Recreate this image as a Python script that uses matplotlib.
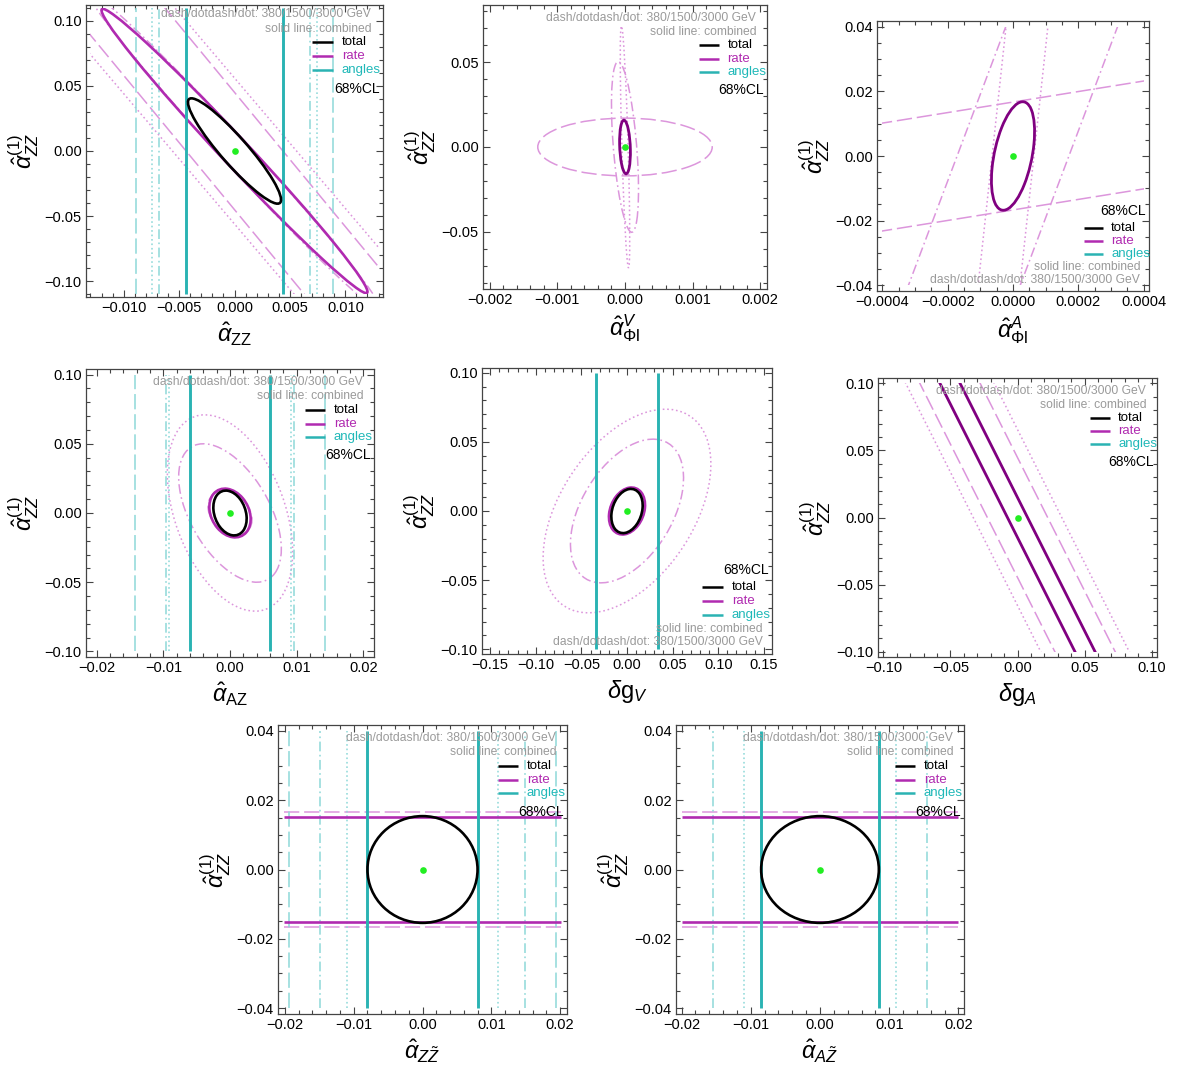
import numpy as np
import matplotlib
matplotlib.use('Agg')
import matplotlib.pyplot as plt
from matplotlib.patches import Ellipse, Rectangle
from matplotlib.transforms import Affine2D
from matplotlib.ticker import MultipleLocator, FuncFormatter

plt.rcParams['font.family'] = ['Liberation Sans', 'DejaVu Sans']
plt.rcParams['mathtext.fontset'] = 'custom'
plt.rcParams['mathtext.rm'] = 'Liberation Sans'
plt.rcParams['mathtext.it'] = 'Liberation Sans:italic'
plt.rcParams['mathtext.bf'] = 'Liberation Sans:bold'
plt.rcParams['lines.scale_dashes'] = False

TOTAL_C = 'black'
RATE_C = '#b02ab0'
RATE_LIGHT = '#dc96dc'
COMBINED_C = '#800080'
ANGLES_C = '#2ab3b3'
ANGLES_LIGHT = '#8ed9d9'
GREY = '#9a9a9a'

DASHES = {'solid': '-', 'combined': '-',
          'dash': (0, (11, 3.5)),
          'dotdash': (0, (7, 2.5, 1.2, 2.5)),
          'dot': (0, (1.2, 2.0))}

BEST_FIT = (0.0, 0.0)

# ellipses: (style, x half extent, y half extent, correlation)
# bands:    (style, slope, +- y intercept)
# lines:    (style, +- position)

# alpha_ZZ
P1_LIM = (0.0134, 0.112)
P1_RANGE = (0.013, 0.11)
P1_TOTAL = (0.0042, 0.0404, -0.925)
P1_RATE_ELL = [('dotdash', 0.0132, 0.122, -0.992), ('solid', 0.0120, 0.109, -0.990)]
P1_RATE_BAND = [('dash', -10.3, 0.045), ('dot', -10.0, 0.056)]
P1_RATE_H = []
P1_ANGLES = [('dotdash', 0.0068), ('dot', 0.0074), ('dash', 0.0089), ('solid', 0.0044)]

# alpha_Phil^V
P2_LIM = (0.0021, 0.0836)
P2_RANGE = (0.002, 0.08)
P2_TOTAL = None
P2_RATE_ELL = [('dash', 0.00129, 0.0170, 0.0), ('dotdash', 0.00020, 0.0502, -0.5),
               ('dot', 0.00007, 0.0712, -0.75), ('combined', 0.00008, 0.0158, -0.2)]
P2_RATE_BAND = []
P2_RATE_H = []
P2_ANGLES = []

# alpha_Phil^A
P3_LIM = (0.000416, 0.0418)
P3_RANGE = (0.0004, 0.04)
P3_TOTAL = None
P3_RATE_ELL = [('combined', 0.000066, 0.0168, 0.45)]
P3_RATE_BAND = [('dash', 16.3, 0.0167), ('dotdash', 269.0, 0.046), ('dot', 938.0, 0.060)]
P3_RATE_H = []
P3_ANGLES = []

# alpha_AZ
P4_LIM = (0.0216, 0.104)
P4_RANGE = (0.0208, 0.1)
P4_TOTAL = (0.0025, 0.0162, -0.25)
P4_RATE_ELL = [('dash', 0.0033, 0.0160, -0.30), ('dotdash', 0.0077, 0.0500, -0.52),
               ('dot', 0.0094, 0.0709, -0.40), ('solid', 0.0031, 0.0176, -0.25)]
P4_RATE_BAND = []
P4_RATE_H = []
P4_ANGLES = [('dash', 0.0142), ('dotdash', 0.0096), ('dot', 0.0091), ('solid', 0.0060)]

# delta g_V
P5_LIM = (0.159, 0.1035)
P5_RANGE = (0.153, 0.1)
P5_TOTAL = (0.0172, 0.0160, 0.25)
P5_RATE_ELL = [('dotdash', 0.062, 0.052, 0.46), ('dot', 0.092, 0.0737, 0.46),
               ('solid', 0.0198, 0.0170, 0.25)]
P5_RATE_BAND = []
P5_RATE_H = []
P5_ANGLES = [('solid', 0.034)]

# delta g_A
P6_LIM = (0.104, 0.104)
P6_RANGE = (0.1, 0.1)
P6_TOTAL = None
P6_RATE_ELL = []
P6_RATE_BAND = [('dash', -1.988, 0.0447), ('dot', -1.988, 0.0656), ('combined', -1.988, 0.0149)]
P6_RATE_H = []
P6_ANGLES = []

# alpha_ZZtilde
P7_LIM = (0.021, 0.0417)
P7_RANGE = (0.0202, 0.040)
P7_TOTAL = (0.0080, 0.0154, 0.0)
P7_RATE_ELL = []
P7_RATE_BAND = []
P7_RATE_H = [('dash', 0.0167), ('solid', 0.0152)]
P7_ANGLES = [('dash', 0.01935), ('dotdash', 0.0149), ('dot', 0.0110), ('solid', 0.0080)]

# alpha_AZtilde
P8_LIM = (0.0208, 0.0417)
P8_RANGE = (0.020, 0.040)
P8_TOTAL = (0.0085, 0.0154, 0.0)
P8_RATE_ELL = []
P8_RATE_BAND = []
P8_RATE_H = [('dash', 0.0167), ('solid', 0.0152)]
P8_ANGLES = [('dotdash', 0.0154), ('dot', 0.0110), ('solid', 0.0085)]

YLABEL = r'$\hat{\alpha}^{(1)}_{ZZ}$'

PANELS = [
    dict(box=(86, 5, 383, 297), xlabel=r'$\hat{\alpha}_{\mathrm{ZZ}}$', xt=(0.005, 0.001, 3), yt=(0.05, 0.01, 2),
         leg='top', shift=0.014, lim=P1_LIM, rng=P1_RANGE, total=P1_TOTAL, ell=P1_RATE_ELL,
         band=P1_RATE_BAND, hl=P1_RATE_H, ang=P1_ANGLES),
    dict(box=(483, 5, 767, 289), xlabel=r'$\hat{\alpha}^{V}_{\Phi\mathrm{l}}$', xt=(0.001, 0.0002, 3), yt=(0.05, 0.01, 2),
         leg='top', shift=0.0, lim=P2_LIM, rng=P2_RANGE, total=P2_TOTAL, ell=P2_RATE_ELL,
         band=P2_RATE_BAND, hl=P2_RATE_H, ang=P2_ANGLES),
    dict(box=(877, 21, 1149, 291), xlabel=r'$\hat{\alpha}^{A}_{\Phi\mathrm{l}}$', xt=(0.0002, 0.00005, 4), yt=(0.02, 0.005, 2),
         leg='bottom', shift=0.0, lim=P3_LIM, rng=P3_RANGE, total=P3_TOTAL, ell=P3_RATE_ELL,
         band=P3_RATE_BAND, hl=P3_RATE_H, ang=P3_ANGLES),
    dict(box=(86, 369, 374, 657), xlabel=r'$\hat{\alpha}_{\mathrm{AZ}}$', xt=(0.01, 0.002, 2), yt=(0.05, 0.01, 2),
         leg='top', shift=0.0, lim=P4_LIM, rng=P4_RANGE, total=P4_TOTAL, ell=P4_RATE_ELL,
         band=P4_RATE_BAND, hl=P4_RATE_H, ang=P4_ANGLES),
    dict(box=(482, 368, 772, 654), xlabel=r'$\delta\mathrm{g}_{V}$', xt=(0.05, 0.01, 2), yt=(0.05, 0.01, 2),
         leg='bottom', shift=0.0, lim=P5_LIM, rng=P5_RANGE, total=P5_TOTAL, ell=P5_RATE_ELL,
         band=P5_RATE_BAND, hl=P5_RATE_H, ang=P5_ANGLES),
    dict(box=(878, 378, 1157, 657), xlabel=r'$\delta\mathrm{g}_{A}$', xt=(0.05, 0.01, 2), yt=(0.05, 0.01, 2),
         leg='top', shift=0.0, lim=P6_LIM, rng=P6_RANGE, total=P6_TOTAL, ell=P6_RATE_ELL,
         band=P6_RATE_BAND, hl=P6_RATE_H, ang=P6_ANGLES),
    dict(box=(278, 725, 567, 1014), xlabel=r'$\hat{\alpha}_{Z\tilde{Z}}$', xt=(0.01, 0.002, 2), yt=(0.02, 0.005, 2),
         leg='top', shift=0.0, lim=P7_LIM, rng=P7_RANGE, total=P7_TOTAL, ell=P7_RATE_ELL,
         band=P7_RATE_BAND, hl=P7_RATE_H, ang=P7_ANGLES),
    dict(box=(676, 725, 964, 1014), xlabel=r'$\hat{\alpha}_{A\tilde{Z}}$', xt=(0.01, 0.002, 2), yt=(0.02, 0.005, 2),
         leg='top', shift=0.0, lim=P8_LIM, rng=P8_RANGE, total=P8_TOTAL, ell=P8_RATE_ELL,
         band=P8_RATE_BAND, hl=P8_RATE_H, ang=P8_ANGLES),
]

W, H = 1180, 1075


def rate_style(style):
    if style == 'combined':
        return COMBINED_C, 2.0, 4
    if style == 'solid':
        return RATE_C, 1.9, 3
    return RATE_LIGHT, 1.1, 2


def angle_style(style):
    if style == 'solid':
        return ANGLES_C, 2.1, 3.5
    return ANGLES_LIGHT, 1.1, 2


def fmt(d):
    def f(v, pos):
        s = f'{v:.{d}f}'
        if float(s) == 0:
            s = f'{0:.{d}f}'
        return s.replace('-', '\u2212')
    return FuncFormatter(f)


def add_ellipse(ax, clip, sx, sy, rho, color, lw, ls, z):
    e = Ellipse((0, 0), 2 * np.sqrt(1 + rho), 2 * np.sqrt(1 - rho), angle=45,
                fill=False, edgecolor=color, linewidth=lw, linestyle=ls, zorder=z,
                transform=Affine2D().scale(sx, sy) + ax.transData)
    ax.add_patch(e)
    e.set_clip_path(clip)


def draw_legend(ax, where, shift):
    if where == 'top':
        ys = dict(g1=0.955, g2=0.905, total=0.858, rate=0.810, angles=0.763, cl=0.700)
        gx1, gx2 = 0.960, 0.963
    else:
        ys = dict(cl=0.295, total=0.234, rate=0.184, angles=0.138, g2=0.088, g1=0.042)
        gx1, gx2 = 0.968, 0.968
    ys = {k: v + shift for k, v in ys.items()}
    tr = ax.transAxes
    ax.text(gx1, ys['g1'], 'dash/dotdash/dot: 380/1500/3000 GeV', transform=tr, ha='right',
            va='center', fontsize=8.7, color=GREY, zorder=6)
    ax.text(gx2, ys['g2'], 'solid line: combined', transform=tr, ha='right',
            va='center', fontsize=8.7, color=GREY, zorder=6)
    for key, lc, tc in [('total', TOTAL_C, 'black'), ('rate', RATE_C, RATE_C), ('angles', ANGLES_C, '#1fb8b8')]:
        ax.plot([0.760, 0.831], [ys[key], ys[key]], transform=tr, color=lc, lw=1.8,
                solid_capstyle='butt', clip_on=False, zorder=6)
        ax.text(0.861, ys[key], key, transform=tr, ha='left', va='center',
                fontsize=9.5, color=tc, zorder=6)
    ax.text(0.99, ys['cl'], '68%CL', transform=tr, ha='right', va='center',
            fontsize=10, color='black', zorder=6)


fig = plt.figure(figsize=(W / 100, H / 100), dpi=100)

for p in PANELS:
    l, t, r, b = p['box']
    ax = fig.add_axes([l / W, 1 - b / H, (r - l) / W, (b - t) / H])
    xr, yr = p['rng']
    clip = Rectangle((-xr, -yr), 2 * xr, 2 * yr, transform=ax.transData)

    for style, sx, sy, rho in p['ell']:
        c, lw, z = rate_style(style)
        add_ellipse(ax, clip, sx, sy, rho, c, lw, DASHES[style], z)

    for style, slope, b0 in p['band']:
        c, lw, z = rate_style(style)
        for sgn in (1, -1):
            ln = ax.axline((0, sgn * b0), slope=slope, color=c, lw=lw,
                           linestyle=DASHES[style], zorder=z)
            ln.set_clip_path(clip)

    for style, y0 in p['hl']:
        c, lw, z = rate_style(style)
        ax.hlines([-y0, y0], -xr, xr, colors=c, linewidth=lw, linestyles=DASHES[style], zorder=z)

    for style, x0 in p['ang']:
        c, lw, z = angle_style(style)
        ax.vlines([-x0, x0], -yr, yr, colors=c, linewidth=lw, linestyles=DASHES[style], zorder=z)

    if p['total'] is not None:
        sx, sy, rho = p['total']
        add_ellipse(ax, clip, sx, sy, rho, TOTAL_C, 1.9, '-', 4)

    ax.plot(BEST_FIT[0], BEST_FIT[1], 'o', color='#22ee22', markersize=4.8,
            markeredgewidth=0, zorder=5)

    xl, yl = p['lim']
    ax.set_xlim(-xl, xl)
    ax.set_ylim(-yl, yl)

    xm, xmi, xd = p['xt']
    ym, ymi, yd = p['yt']
    ax.xaxis.set_major_locator(MultipleLocator(xm))
    ax.xaxis.set_minor_locator(MultipleLocator(xmi))
    ax.yaxis.set_major_locator(MultipleLocator(ym))
    ax.yaxis.set_minor_locator(MultipleLocator(ymi))
    ax.xaxis.set_major_formatter(fmt(xd))
    ax.yaxis.set_major_formatter(fmt(yd))
    ax.tick_params(which='both', direction='in', top=True, right=True, color='#444444',
                   width=0.8, labelsize=10.5, pad=3)
    ax.tick_params(which='major', length=5)
    ax.tick_params(which='minor', length=2.8)
    for s in ax.spines.values():
        s.set_color('#444444')
        s.set_linewidth(0.9)

    ax.set_xlabel(p['xlabel'], fontsize=17, labelpad=4)
    ax.set_ylabel(YLABEL, fontsize=17, labelpad=3)

    draw_legend(ax, p['leg'], p['shift'])

fig.savefig('out.png', dpi=100)
